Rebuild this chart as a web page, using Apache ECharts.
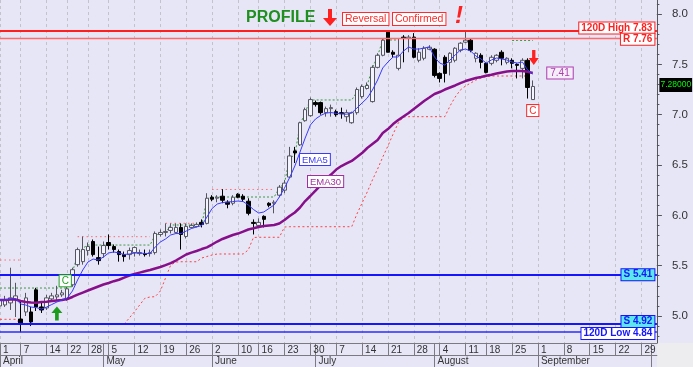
<!DOCTYPE html>
<html>
<head>
<meta charset="utf-8">
<script src="https://cdn.jsdelivr.net/npm/echarts@6.0.0/dist/echarts.min.js"></script>
<style>
html,body{margin:0;padding:0;background:#e6e6f7;overflow:hidden;}
#chart{width:693px;height:367px;}
</style>
</head>
<body>
<div id="chart"></div>
<script>
// ---------------- DATA ----------------
const dates = [
'2014-04-01','2014-04-02','2014-04-03','2014-04-04','2014-04-07','2014-04-08','2014-04-09','2014-04-10','2014-04-11','2014-04-14','2014-04-15','2014-04-16','2014-04-17','2014-04-22','2014-04-23','2014-04-24','2014-04-25','2014-04-28','2014-04-29','2014-04-30',
'2014-05-02','2014-05-05','2014-05-06','2014-05-07','2014-05-08','2014-05-09','2014-05-12','2014-05-13','2014-05-14','2014-05-15','2014-05-16','2014-05-19','2014-05-20','2014-05-21','2014-05-22','2014-05-23','2014-05-26','2014-05-27','2014-05-28','2014-05-29','2014-05-30',
'2014-06-02','2014-06-03','2014-06-04','2014-06-05','2014-06-06','2014-06-10','2014-06-11','2014-06-12','2014-06-13','2014-06-16','2014-06-17','2014-06-18','2014-06-19','2014-06-20','2014-06-23','2014-06-24','2014-06-25','2014-06-26','2014-06-27','2014-06-30',
'2014-07-01','2014-07-02','2014-07-03','2014-07-04','2014-07-07','2014-07-08','2014-07-09','2014-07-10','2014-07-11','2014-07-14','2014-07-15','2014-07-16','2014-07-17','2014-07-18','2014-07-21','2014-07-22','2014-07-23','2014-07-24','2014-07-25','2014-07-28','2014-07-29','2014-07-30','2014-07-31',
'2014-08-01','2014-08-04','2014-08-05','2014-08-06','2014-08-07','2014-08-08','2014-08-11','2014-08-12','2014-08-13','2014-08-14','2014-08-18','2014-08-19','2014-08-20','2014-08-21','2014-08-22','2014-08-25','2014-08-26','2014-08-27','2014-08-28','2014-08-29',
'2014-09-01','2014-09-02','2014-09-03','2014-09-04','2014-09-05','2014-09-08','2014-09-09','2014-09-10','2014-09-11','2014-09-12','2014-09-15','2014-09-16','2014-09-17','2014-09-18','2014-09-19','2014-09-22','2014-09-23','2014-09-24','2014-09-25','2014-09-26','2014-09-29','2014-09-30',
'2014-10-01','2014-10-02'
];

// [open, close, low, high]
const candles = [
[5.10,5.16,5.04,5.20],[5.11,5.16,5.09,5.20],[5.13,5.18,5.06,5.48],[5.16,5.20,4.99,5.33],[4.97,4.93,4.84,5.14],
[5.04,5.18,5.00,5.23],[5.04,4.94,4.90,5.09],[5.26,5.09,5.05,5.28],[5.09,5.06,5.03,5.13],[5.08,5.18,5.06,5.21],
[5.17,5.20,5.15,5.23],[5.19,5.21,5.16,5.30],[5.21,5.23,5.19,5.26],[5.17,5.27,5.15,5.29],[5.31,5.46,5.29,5.48],
[5.51,5.66,5.49,5.68],[5.54,5.66,5.51,5.79],[5.65,5.69,5.60,5.73],[5.74,5.61,5.59,5.76],[5.58,5.55,5.51,5.69],
[5.62,5.70,5.58,5.74],[5.73,5.70,5.66,5.81],[5.69,5.66,5.63,5.71],[5.64,5.61,5.54,5.66],[5.61,5.59,5.54,5.64],
[5.61,5.65,5.56,5.68],[5.63,5.68,5.59,5.69],[5.62,5.63,5.60,5.66],[5.62,5.61,5.59,5.66],[5.62,5.63,5.59,5.66],
[5.63,5.82,5.61,5.84],[5.81,5.83,5.79,5.86],[5.83,5.84,5.79,5.92],[5.85,5.88,5.82,5.92],[5.83,5.88,5.82,5.92],
[5.88,5.81,5.66,5.92],[5.79,5.89,5.77,5.92],[5.88,5.90,5.87,5.92],[5.89,5.91,5.88,5.93],[5.93,5.91,5.88,5.96],
[5.92,6.17,5.91,6.22],[6.18,6.16,6.14,6.20],[6.17,6.18,6.13,6.20],[6.19,6.15,6.12,6.26],[6.13,6.11,6.07,6.15],
[6.12,6.18,6.10,6.20],[6.21,6.18,6.17,6.22],[6.19,6.16,6.14,6.21],[6.14,6.02,6.00,6.17],[5.93,5.92,5.81,5.96],
[5.90,5.93,5.88,5.97],[5.99,5.96,5.88,6.00],[6.12,6.10,6.08,6.13],[6.12,6.13,6.02,6.15],[6.20,6.28,6.18,6.30],
[6.25,6.32,6.22,6.35],[6.38,6.59,6.37,6.68],[6.64,6.62,6.52,6.68],[6.70,6.92,6.69,6.93],[6.94,7.05,6.93,7.07],
[6.99,7.15,6.98,7.17],[7.12,7.10,7.08,7.14],[7.12,7.02,7.00,7.13],[7.02,7.06,6.98,7.08],[7.06,7.07,6.98,7.10],
[7.03,7.00,6.98,7.05],[7.02,7.01,6.96,7.07],[6.98,7.02,6.93,7.05],[6.92,7.02,6.91,7.03],[7.02,7.25,7.00,7.27],
[7.18,7.28,7.16,7.30],[7.26,7.29,7.25,7.32],[7.13,7.47,7.12,7.49],[7.47,7.59,7.46,7.61],[7.59,7.74,7.58,7.76],
[7.82,7.62,7.62,7.83],[7.62,7.60,7.57,7.64],[7.46,7.59,7.44,7.76],[7.77,7.76,7.52,7.79],[7.76,7.77,7.62,7.79],
[7.77,7.57,7.56,7.81],[7.54,7.62,7.52,7.66],[7.56,7.66,7.54,7.68],[7.65,7.67,7.64,7.69],[7.65,7.39,7.37,7.66],
[7.41,7.36,7.32,7.42],[7.57,7.41,7.32,7.59],[7.52,7.61,7.39,7.62],[7.54,7.66,7.52,7.67],[7.64,7.71,7.62,7.72],
[7.72,7.74,7.71,7.83],[7.74,7.64,7.62,7.76],[7.56,7.61,7.52,7.62],[7.59,7.52,7.46,7.61],[7.51,7.42,7.41,7.52],
[7.51,7.57,7.49,7.59],[7.54,7.59,7.52,7.60],[7.62,7.56,7.49,7.64],[7.52,7.56,7.50,7.57],[7.54,7.51,7.46,7.56],
[7.50,7.49,7.36,7.51],[7.46,7.54,7.36,7.56],[7.54,7.27,7.16,7.56],[7.15,7.28,7.15,7.34]
];

const ema5 = [
5.159,5.159,5.169,5.174,5.119,5.109,5.089,5.084,5.069,5.089,
5.114,5.139,5.159,5.179,5.248,5.358,5.457,5.536,5.566,5.556,
5.586,5.626,5.636,5.626,5.611,5.616,5.626,5.626,5.621,5.621,
5.685,5.735,5.765,5.805,5.819,5.819,5.844,5.869,5.884,5.899,
5.983,6.068,6.112,6.127,6.132,6.137,6.142,6.137,6.103,6.058,
6.023,6.033,6.068,6.103,6.182,6.271,6.376,6.490,6.629,6.768,
6.897,6.957,6.992,7.016,7.021,7.013,7.008,7.004,7.016,7.066,
7.116,7.165,7.245,7.344,7.464,7.523,7.573,7.573,7.632,7.672,
7.652,7.652,7.662,7.672,7.573,7.513,7.493,7.543,7.593,7.642,
7.652,7.632,7.583,7.553,7.513,7.543,7.563,7.553,7.543,7.523,
7.513,7.523,7.444,7.404
];

const ema30 = [
5.159,5.159,5.164,5.164,5.149,5.139,5.134,5.132,5.139,5.142,
5.149,5.154,5.159,5.169,5.189,5.213,5.233,5.253,5.273,5.293,
5.313,5.328,5.346,5.360,5.382,5.402,5.417,5.431,5.444,5.457,
5.472,5.487,5.506,5.526,5.551,5.581,5.611,5.629,5.646,5.665,
5.682,5.710,5.740,5.765,5.785,5.805,5.819,5.839,5.859,5.871,
5.884,5.894,5.899,5.904,5.919,5.954,5.993,6.028,6.078,6.142,
6.192,6.246,6.301,6.361,6.405,6.455,6.490,6.515,6.540,6.579,
6.619,6.669,6.709,6.748,6.818,6.857,6.907,6.947,6.982,7.016,
7.056,7.096,7.136,7.170,7.205,7.225,7.250,7.270,7.290,7.314,
7.334,7.349,7.364,7.374,7.386,7.396,7.409,7.419,7.429,7.434,
7.434,7.434,7.426,7.414
];

// green dotted upper channel
const upperChannel = [
5.278,5.278,5.278,5.278,5.278,5.278,5.278,5.278,5.278,5.278,
5.278,5.278,5.278,5.278,5.437,5.606,5.675,5.705,5.705,5.705,
5.705,5.705,5.705,5.705,5.705,5.705,5.705,5.705,5.705,5.705,
5.805,5.815,5.824,5.904,5.904,5.904,5.904,5.904,5.904,5.904,
6.162,6.182,6.182,6.182,6.182,6.182,6.182,6.182,6.182,6.182,
6.182,6.182,6.182,6.182,6.271,6.321,6.569,6.599,6.897,7.026,
7.146,7.146,7.146,7.146,7.146,7.146,7.146,7.146,7.146,7.225,
7.265,7.295,7.464,7.583,7.742,7.742,7.742,7.742,null,null,
null,null,null,null,null,null,null,null,null,null,
null,null,null,null,null,null,null,null,null,7.737,
7.737,7.737,7.737,7.737
];

// red dotted upper stop
const upperStop = [
5.556,5.556,5.556,5.556,5.556,null,null,null,null,null,
null,null,null,null,null,5.788,5.788,5.788,5.788,5.788,
5.788,5.788,5.788,5.788,5.788,5.788,5.788,5.788,5.788,5.788,
null,null,5.921,5.921,5.921,5.921,5.921,5.921,5.921,null,
null,6.257,6.257,6.257,6.257,6.257,6.257,6.257,6.257,6.257,
6.257,6.257,6.257,6.257,null
];

// red dotted lower trailing stop
const lowerStop = [
4.967,4.967,4.967,4.967,4.920,4.920,4.920,4.920,4.920,4.920,
4.920,4.920,4.920,4.920,4.920,4.920,4.920,4.920,4.920,4.920,
4.920,4.920,4.920,4.920,4.920,4.980,5.043,5.109,5.176,5.189,
5.192,5.248,5.377,5.506,5.536,5.539,5.539,5.539,5.539,5.576,
5.591,5.606,5.616,5.616,5.616,5.616,5.616,5.616,5.656,5.780,
5.782,5.782,5.782,5.782,5.782,5.884,5.887,5.887,5.887,5.887,
5.887,5.887,5.887,5.887,5.887,5.887,5.887,5.887,5.887,6.013,
6.122,6.232,6.351,6.460,6.579,6.689,6.808,6.917,6.977,6.980,
6.980,6.980,6.980,6.980,6.980,6.980,6.980,7.086,7.175,7.245,
7.285,7.314,7.344,7.364,7.379,7.384,7.384,7.384,7.384,7.384,
7.384,7.384,7.384,null
];

const levelValues = [7.83, 7.76, 5.41, 4.92, 4.84];
const levelNames  = ['120D High 7.83', 'R 7.76', 'S 5.41', 'S 4.92', '120D Low 4.84'];
const yLabelValues = [5.0, 5.5, 6.0, 6.5, 7.0, 7.5, 8.0];
const yMinorValues = [4.8,4.9,5.0,5.1,5.2,5.3,5.4,5.5,5.6,5.7,5.8,5.9,6.0,6.1,6.2,6.3,6.4,6.5,6.6,6.7,6.8,6.9,7.0,7.1,7.2,7.3,7.4,7.5,7.6,7.7,7.8,7.9,8.0,8.1];
const monthNames = ['January','February','March','April','May','June','July','August','September','October','November','December'];
const lastPriceText = '7.28000';
const lastPrice = 7.28;

// ---------------- AXIS HELPERS ----------------
const dow = dates.map(d => new Date(d + 'T00:00:00Z').getUTCDay());
const weekStart = dates.map((d, i) => i === 0 || dow[i] < dow[i - 1]);
const monthStart = dates.map((d, i) => i === 0 || d.slice(5, 7) !== dates[i - 1].slice(5, 7));
const lastIdx = dates.length - 1;
const lastBar = candles.length - 1;

const FONT = '"Liberation Sans", Arial, sans-serif';
const Y_MIN = 4.7318, Y_MAX = 8.1391;

function box(color, bg, extra) {
  return Object.assign({
    show: true, color: color, backgroundColor: bg, borderColor: color, borderWidth: 1,
    fontFamily: FONT, fontSize: 10, fontWeight: 'bold', padding: [1, 2, 0, 2], lineHeight: 10
  }, extra || {});
}
const levelColors = ['#ff1f1f', '#ff1f1f', '#1515ff', '#1515ff', '#1515ff'];
const levelBg = ['#ffffff', '#ffffff', '#5ce8ea', '#5ce8ea', '#ffffff'];
const levelOffsets = [[0, -3], [0, 1], [0, 0], [0, -2.5], [0, 1.5]];
const levelLineStyles = [
  {color: '#ff1f1f', width: 2}, {color: '#ff6a6a', width: 1.3},
  {color: '#1515ff', width: 2}, {color: '#1515ff', width: 2}, {color: '#2a2aff', width: 1.5}
];

const downArrow = 'path://M4,0 L8,0 L8,8 L12,8 L6,15 L0,8 L4,8 Z';
const upArrow = 'path://M6,0 L12,7 L8,7 L8,15 L4,15 L4,7 L0,7 Z';

const markPoints = levelValues.map((v, k) => ({
  coord: [lastIdx, v], symbol: 'rect', symbolSize: 1, itemStyle: {color: 'rgba(0,0,0,0)'},
  label: box(levelColors[k], levelBg[k], {position: 'left', distance: 2, offset: levelOffsets[k], formatter: levelNames[k]})
}));
markPoints.push({
  coord: [lastIdx, lastPrice], symbol: 'rect', symbolSize: 1, itemStyle: {color: 'rgba(0,0,0,0)'},
  label: {show: true, position: 'right', distance: 2, offset: [0, -1.5], formatter: lastPriceText,
    color: '#00ff00', backgroundColor: '#000', fontFamily: FONT, fontSize: 8.5, padding: [3, 1, 2, 1], lineHeight: 9}
});
// signal C (red) below last bar
markPoints.push({
  coord: [lastBar, candles[lastBar][2]], symbol: 'rect', symbolSize: 1, itemStyle: {color: 'rgba(0,0,0,0)'},
  label: box('#ff2a2a', '#ffffff', {position: 'bottom', distance: 5, fontWeight: 'normal', fontSize: 10, padding: [1, 2, 0, 2], formatter: 'C'})
});
// signal C (green) above bar 13
markPoints.push({
  coord: [13, candles[13][3]], symbol: 'rect', symbolSize: 1, itemStyle: {color: 'rgba(0,0,0,0)'},
  label: box('#22a022', '#ffffff', {position: 'top', distance: 0, offset: [-2, 0], fontWeight: 'normal', fontSize: 10, padding: [1, 2, 0, 2], formatter: 'C'})
});
// arrows
markPoints.push({
  coord: [11, candles[11][2]], symbol: upArrow, symbolSize: [11, 14], symbolOffset: [0, 13.5],
  itemStyle: {color: '#1c9c1c'}, label: {show: false}
});
markPoints.push({
  coord: [lastBar, candles[lastBar][3]], symbol: downArrow, symbolSize: [10, 15], symbolOffset: [1, -23],
  itemStyle: {color: '#ff2020'}, label: {show: false}
});

const chart = echarts.init(document.getElementById('chart'), null, {renderer: 'canvas'});

const option = {
  animation: false,
  backgroundColor: '#e6e6f7',
  textStyle: {fontFamily: FONT},
  grid: {left: -1.8, right: 36.1, top: 0, bottom: 24, containLabel: false},
  xAxis: [{
    type: 'category', data: dates, boundaryGap: false, position: 'bottom',
    axisLine: {show: true, lineStyle: {color: '#7a7a80', width: 1}},
    axisTick: {show: true, length: 12, interval: (i) => weekStart[i] || monthStart[i], lineStyle: {color: '#7a7a80'}},
    axisLabel: {interval: (i) => weekStart[i], formatter: (v) => String(parseInt(v.slice(8, 10), 10)),
      align: 'left', padding: [0, 0, 0, 3], margin: 2, fontSize: 10, color: '#333', fontFamily: FONT},
    splitLine: {show: true, interval: (i) => weekStart[i], lineStyle: {color: '#c3c3cc', type: [3, 3], width: 1}}
  }, {
    type: 'category', data: dates, boundaryGap: false, position: 'bottom', offset: 12,
    axisLine: {show: true, lineStyle: {color: '#7a7a80', width: 1}},
    axisTick: {show: true, length: 12, interval: (i) => monthStart[i], lineStyle: {color: '#7a7a80'}},
    axisLabel: {interval: (i) => monthStart[i] && i < 120, formatter: (v) => monthNames[parseInt(v.slice(5, 7), 10) - 1],
      align: 'left', padding: [0, 0, 0, 3], margin: 1, fontSize: 10, color: '#333', fontFamily: FONT},
    splitLine: {show: false}
  }],
  yAxis: [{
    type: 'value', position: 'right', min: Y_MIN, max: Y_MAX,
    axisLine: {show: true, lineStyle: {color: '#55555c'}},
    axisTick: {show: true, length: 5, customValues: yLabelValues, lineStyle: {color: '#55555c'}},
    axisLabel: {customValues: yLabelValues, formatter: (v) => v.toFixed(1), margin: 15, fontSize: 11.5, color: '#333', fontFamily: FONT},
    splitLine: {show: false}
  }, {
    type: 'value', position: 'right', min: Y_MIN, max: Y_MAX,
    axisLine: {show: false},
    axisTick: {show: true, length: 2.5, customValues: yMinorValues, lineStyle: {color: '#55555c'}},
    axisLabel: {show: false},
    splitLine: {show: false}
  }],
  series: [{
    name: 'levels', type: 'line', data: [], z: 1, silent: true,
    markLine: {
      silent: true, symbol: ['none', 'none'], animation: false, label: {show: false},
      data: levelValues.map((v, k) => ({yAxis: v, lineStyle: Object.assign({type: 'solid'}, levelLineStyles[k])}))
    }
  }, {
    name: 'price', type: 'candlestick', data: candles, z: 3, barWidth: 4,
    itemStyle: {color: '#f4f4ff', color0: '#000000', borderColor: '#555560', borderColor0: '#000000', borderWidth: 1},
    markPoint: {animation: false, silent: true, data: markPoints}
  }, {
    name: 'EMA30', type: 'line', data: ema30, symbol: 'none', z: 4,
    lineStyle: {color: '#87108a', width: 2.5},
    markPoint: {animation: false, silent: true, data: [{
      coord: [ema30.length - 1, ema30[ema30.length - 1]], symbol: 'rect', symbolSize: 1, itemStyle: {color: 'rgba(0,0,0,0)'},
      label: box('#b03cb0', '#f4eef8', {position: 'right', distance: 14, fontWeight: 'normal', fontSize: 10, padding: [1, 3, 0, 3], formatter: (p) => p.data.coord[1].toFixed(2)})
    }]}
  }, {
    name: 'EMA5', type: 'line', data: ema5, symbol: 'none', z: 4,
    lineStyle: {color: '#3a3aff', width: 1}
  }, {
    name: 'upperChannel', type: 'line', data: upperChannel, symbol: 'none', z: 2, connectNulls: false,
    lineStyle: {color: '#3a9a3a', width: 1, type: [2, 2]}
  }, {
    name: 'upperStop', type: 'line', data: upperStop, symbol: 'none', z: 2, connectNulls: false,
    lineStyle: {color: '#ff6a6a', width: 1, type: [1.5, 3]}
  }, {
    name: 'lowerStop', type: 'line', data: lowerStop, symbol: 'none', z: 2, connectNulls: false,
    lineStyle: {color: '#ff4040', width: 1, type: [2, 2.5]}
  }],
  graphic: [
    {type: 'rect', shape: {x: 657, y: 343, width: 36, height: 24}, style: {fill: '#ededf0'}, z: 0, silent: true},
    {type: 'text', x: 246, y: 10, style: {text: 'PROFILE', font: 'bold 16px ' + FONT, fill: '#1f8f1f'}, z: 10},
    {type: 'polygon', shape: {points: [[328, 9], [332, 9], [332, 18], [337, 18], [330, 26], [323, 18], [328, 18]]}, style: {fill: '#ff2020'}, z: 10},
    {type: 'text', x: 343, y: 13, style: {text: 'Reversal', font: '10.5px ' + FONT, fill: '#ff2a2a', backgroundColor: '#ffffff', borderColor: '#ff2a2a', borderWidth: 1, padding: [1, 2, 0, 2]}, z: 10},
    {type: 'text', x: 393, y: 13, style: {text: 'Confirmed', font: '10.5px ' + FONT, fill: '#ff2a2a', backgroundColor: '#ffffff', borderColor: '#ff2a2a', borderWidth: 1, padding: [1, 2, 0, 2]}, z: 10},
    {type: 'text', x: 455, y: 4, style: {text: '!', font: 'italic bold 24px ' + FONT, fill: '#ff2020'}, z: 10},
    {type: 'text', x: 300, y: 154, style: {text: 'EMA5', font: '9.5px ' + FONT, fill: '#3a3aff', backgroundColor: '#ffffff', borderColor: '#3a3aff', borderWidth: 1, padding: [1, 2, 0, 2]}, z: 10},
    {type: 'text', x: 308, y: 176, style: {text: 'EMA30', font: '9.5px ' + FONT, fill: '#a030a0', backgroundColor: '#ffffff', borderColor: '#a030a0', borderWidth: 1, padding: [1, 2, 0, 2]}, z: 10}
  ]
};
chart.setOption(option);
</script>
</body>
</html>
